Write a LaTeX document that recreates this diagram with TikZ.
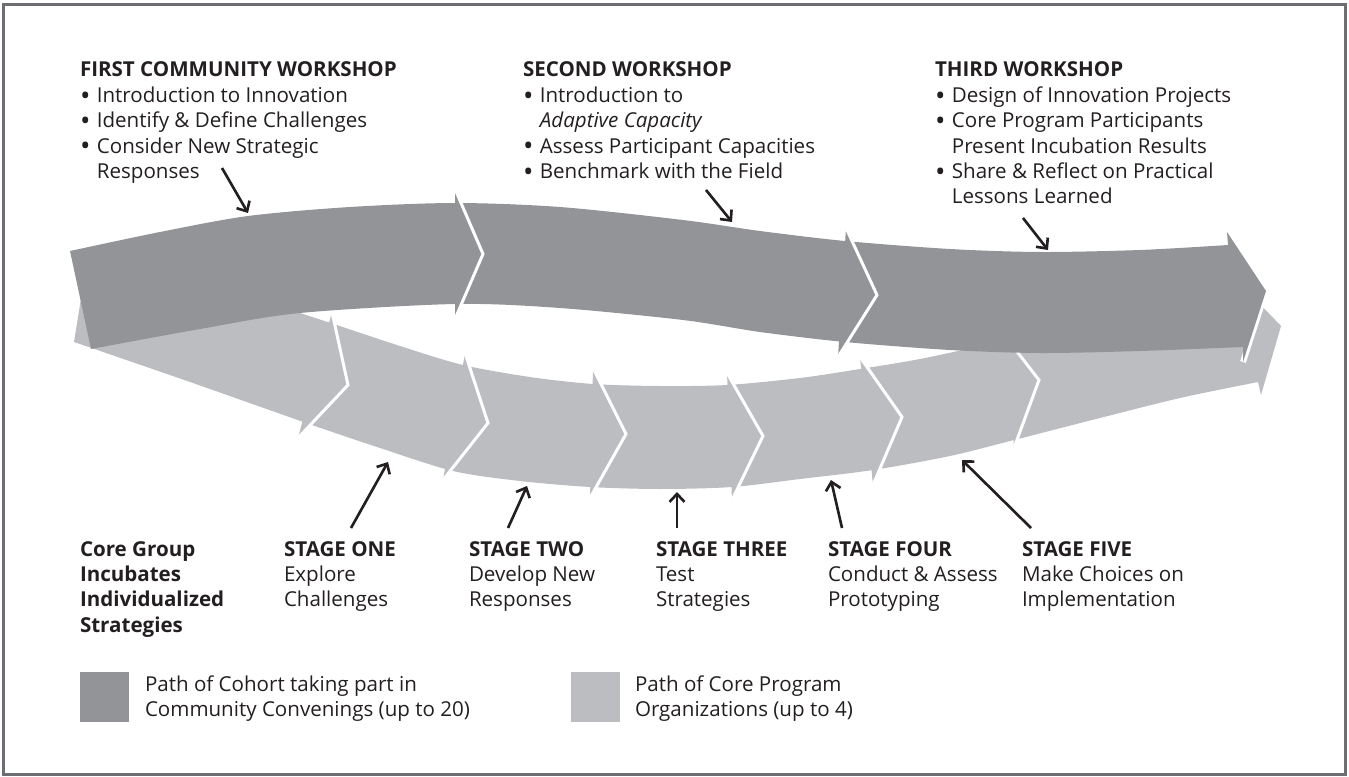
\documentclass[tikz,border=0pt]{standalone}
\usepackage{fontspec}
\usepackage{graphicx}
\setmainfont{Open Sans}
\usetikzlibrary{arrows.meta}
\definecolor{darkband}{HTML}{939498}
\definecolor{lightband}{HTML}{BCBDC1}
\definecolor{ink}{HTML}{231F20}
\definecolor{framec}{HTML}{6D6E71}
\newcommand{\bl}{\makebox[9.6pt][l]{\raisebox{-0.25ex}{\scalebox{1.35}{•}}}}
\newcommand{\ind}{\hspace*{9.6pt}}
\begin{document}
\begin{tikzpicture}[x=0.02cm,y=-0.02cm,
  txt/.style={anchor=base west, inner sep=0pt, outer sep=0pt, text=ink, font=\fontsize{11.7pt}{14.45pt}\selectfont},
  pointer/.style={draw=ink, line width=1.5pt, line cap=butt, -{Straight Barb[length=0.16cm,width=0.3cm,line width=1.5pt]}},
  gap/.style={draw=white, line width=1.7pt, line join=miter, line cap=butt},
  swatch/.style={anchor=north west, inner sep=0pt, minimum width=0.98cm, minimum height=1cm}]
\useasboundingbox (0,0) rectangle (1349,777);
\draw[framec, line width=1.2pt] (3.5,4.5) rectangle (1345.5,774.5);

% ---------- light band (core program path)
\fill[lightband] plot[smooth] coordinates {(88,255) (200,282) (300,313) (400,346) (463,365) (530,377) (593,384) (660,386) (727,385) (800,378) (860,369) (920,359) (1000,342) (1100,322) (1180,306) (1235,294)}
  -- (1231,274) -- (1281,326) -- (1261,395) -- (1258,382)
  -- plot[smooth] coordinates {(1258,382) (1180,398) (1100,418) (1014,440) (950,456) (873,470) (800,479) (732,487) (660,489) (590,487) (520,481) (453,471) (380,448) (312,425) (190,382) (74,342)} -- cycle;
% light chevrons
\fill[lightband] (332,312) -- (348,385) -- (298,438) -- cycle;
\draw[gap] (332,312) -- (348,385) -- (298,438);
\fill[lightband] (465,353) -- (488,423) -- (443,480) -- cycle;
\draw[gap] (465,353) -- (488,423) -- (443,480);
\fill[lightband] (593,368) -- (626,434) -- (590,498) -- cycle;
\draw[gap] (593,368) -- (626,434) -- (590,498);
\fill[lightband] (727,373) -- (763,436) -- (732,500) -- cycle;
\draw[gap] (727,373) -- (763,436) -- (732,500);
\fill[lightband] (860,357) -- (902,417) -- (873,485) -- cycle;
\draw[gap] (860,357) -- (902,417) -- (873,485);
\fill[lightband] (1008,340) -- (1039,380) -- (1014,448) -- cycle;
\draw[gap] (1008,340) -- (1039,380) -- (1014,448);

% white outline of the dark final head over the light band
\draw[white, line width=3.4pt, line cap=butt] (1266,291) -- (1243,362);

% ---------- dark band (cohort path)
\fill[darkband] plot[smooth] coordinates {(70,251) (160,232) (248,216) (350,207) (455,203) (560,207) (683,220) (760,231) (845,241) (950,249) (1040,252) (1140,250) (1228,245)}
  -- (1227,232) -- (1266,291) -- (1243,362) -- (1243,347)
  -- plot[smooth] coordinates {(1243,347) (1140,351) (1040,353) (950,350) (845,342) (760,332) (683,320) (560,308) (455,304) (300,313) (200,329) (91,349)} -- cycle;
\fill[darkband] (455,189) -- (483,254) -- (455,319) -- cycle;
\draw[gap] (455,189) -- (483,254) -- (455,319);
\fill[darkband] (846,228) -- (877,295) -- (838,357) -- cycle;
\draw[gap] (846,228) -- (877,295) -- (838,357);

% ---------- workshop texts
\node[txt] (w1) at (80,77) {\vtop{\hbox{\textbf{FIRST COMMUNITY WORKSHOP}}\hbox{\bl Introduction to Innovation}\hbox{\bl Identify \& Define Challenges}\hbox{\bl Consider New Strategic}\hbox{\ind Responses}}};
\node[txt] (w2) at (523,77) {\vtop{\hbox{\textbf{SECOND WORKSHOP}}\hbox{\bl Introduction to}\hbox{\ind\textit{Adaptive Capacity}}\hbox{\bl Assess Participant Capacities}\hbox{\bl Benchmark with the Field}}};
\node[txt] (w3) at (935,77) {\vtop{\hbox{\textbf{THIRD WORKSHOP}}\hbox{\bl Design of Innovation Projects}\hbox{\bl Core Program Participants}\hbox{\ind Present Incubation Results}\hbox{\bl Share \& Reflect on Practical}\hbox{\ind Lessons Learned}}};

% ---------- stage texts
\node[txt] (cg) at (80,556) {\vtop{\hbox{\textbf{Core Group}}\hbox{\textbf{Incubates}}\hbox{\textbf{Individualized}}\hbox{\textbf{Strategies}}}};
\node[txt] (s1) at (284,556) {\vtop{\hbox{\textbf{STAGE ONE}}\hbox{Explore}\hbox{Challenges}}};
\node[txt] (s2) at (469,556) {\vtop{\hbox{\textbf{STAGE TWO}}\hbox{Develop New}\hbox{Responses}}};
\node[txt] (s3) at (656,556) {\vtop{\hbox{\textbf{STAGE THREE}}\hbox{Test}\hbox{Strategies}}};
\node[txt] (s4) at (828,556) {\vtop{\hbox{\textbf{STAGE FOUR}}\hbox{Conduct \& Assess}\hbox{Prototyping}}};
\node[txt] (s5) at (1022,556) {\vtop{\hbox{\textbf{STAGE FIVE}}\hbox{Make Choices on}\hbox{Implementation}}};

% ---------- pointers
\coordinate (a1s) at (222,168); \coordinate (a1e) at (248,213);
\coordinate (a2s) at (706,190); \coordinate (a2e) at (732,222);
\coordinate (a3s) at (1023,218); \coordinate (a3e) at (1048,250);
\coordinate (b1s) at (351,528); \coordinate (b1e) at (388,462);
\coordinate (b2s) at (508,528); \coordinate (b2e) at (527,486);
\coordinate (b3s) at (677,528); \coordinate (b3e) at (677,492);
\coordinate (b4s) at (842,528); \coordinate (b4e) at (831,480);
\coordinate (b5s) at (1031,528); \coordinate (b5e) at (962,460);
\draw[pointer] (a1s) -- (a1e);
\draw[pointer] (a2s) -- (a2e);
\draw[pointer] (a3s) -- (a3e);
\draw[pointer] (b1s) -- (b1e);
\draw[pointer] (b2s) -- (b2e);
\draw[pointer] (b3s) -- (b3e);
\draw[pointer] (b4s) -- (b4e);
\draw[pointer] (b5s) -- (b5e);

% ---------- legend
\node[swatch, fill=darkband] (lg1) at (80,672) {};
\node[txt] (lt1) at (145,691) {\vtop{\hbox{Path of Cohort taking part in}\hbox{Community Convenings (up to 20)}}};
\node[swatch, fill=lightband] (lg2) at (571,672) {};
\node[txt] (lt2) at (635,691) {\vtop{\hbox{Path of Core Program}\hbox{Organizations (up to 4)}}};
\end{tikzpicture}
\end{document}
